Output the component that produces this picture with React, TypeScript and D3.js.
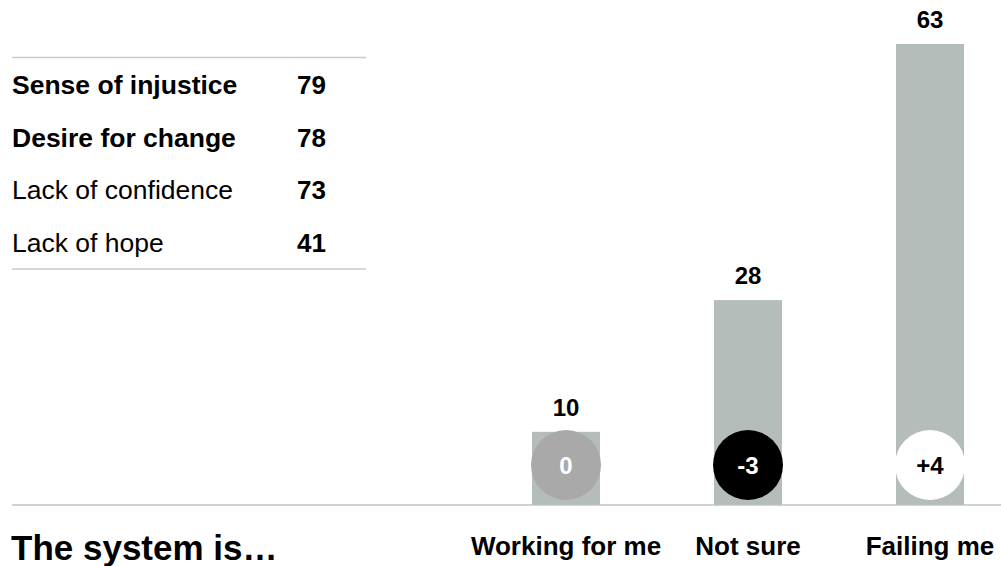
import React from "react";
import * as d3 from "d3";

const categories = ["Working for me", "Not sure", "Failing me"];
const values = [10, 28, 63];
const changes = ["0", "-3", "+4"];
const changeFill = ["#a9a9a9", "#000000", "#ffffff"];
const changeText = ["#ffffff", "#ffffff", "#000000"];

const tableLabels = ["Sense of injustice", "Desire for change", "Lack of confidence", "Lack of hope"];
const tableValues = [79, 78, 73, 41];
const tableBold = [true, true, false, false];

const title = "The system is\u2026";

const W = 1001;
const H = 566;
const FONT = "'Liberation Sans', Arial, Helvetica, sans-serif";

export default function App() {
  const baseY = 505;
  const x = d3.scaleBand<string>().domain(categories).range([532, 964]).paddingInner(0.6264).paddingOuter(0);
  const y = d3.scaleLinear().domain([0, 63]).range([baseY, 44]);
  const rowY = d3.scaleLinear().domain([0, 3]).range([94, 251.7]);

  return (
    <div style={{ position: "absolute", left: 0, top: 0 }}>
      <svg width={W} height={H} style={{ display: "block", fontFamily: FONT }}>
        <rect x={0} y={0} width={W} height={H} fill="#ffffff" />
        {/* table */}
        <line x1={12} x2={366} y1={57.5} y2={57.5} stroke="#c5cbca" strokeWidth={1.5} />
        <line x1={12} x2={366} y1={269} y2={269} stroke="#c5cbca" strokeWidth={1.5} />
        {tableLabels.map((l, i) => (
          <g key={l}>
            <text x={12} y={rowY(i)} fontSize={26.5} fontWeight={tableBold[i] ? "bold" : "normal"} fill="#000">
              {l}
            </text>
            <text x={326} y={rowY(i)} fontSize={26} fontWeight="bold" textAnchor="end" fill="#000">
              {tableValues[i]}
            </text>
          </g>
        ))}
        {/* bars */}
        {categories.map((c, i) => {
          const cx = (x(c) as number) + x.bandwidth() / 2;
          return (
            <g key={c}>
              <rect x={x(c)} y={y(values[i])} width={x.bandwidth()} height={baseY - y(values[i])} fill="#b5bdbb" />
              <text x={cx} y={y(values[i]) - 16} fontSize={24} fontWeight="bold" textAnchor="middle" fill="#000">
                {values[i]}
              </text>
              <text x={cx} y={555} fontSize={26} fontWeight="bold" textAnchor="middle" fill="#000">
                {c}
              </text>
            </g>
          );
        })}
        <line x1={12} x2={W} y1={baseY} y2={baseY} stroke="#bcc4c3" strokeWidth={1.5} />
        {categories.map((c, i) => {
          const cx = (x(c) as number) + x.bandwidth() / 2;
          return (
            <g key={c + "-c"}>
              <circle cx={cx} cy={465} r={35} fill={changeFill[i]} />
              <text x={cx} y={473.5} fontSize={24} fontWeight="bold" textAnchor="middle" fill={changeText[i]}>
                {changes[i]}
              </text>
            </g>
          );
        })}
        <text x={11} y={560} fontSize={35} fontWeight="bold" fill="#000">
          {title}
        </text>
      </svg>
    </div>
  );
}
